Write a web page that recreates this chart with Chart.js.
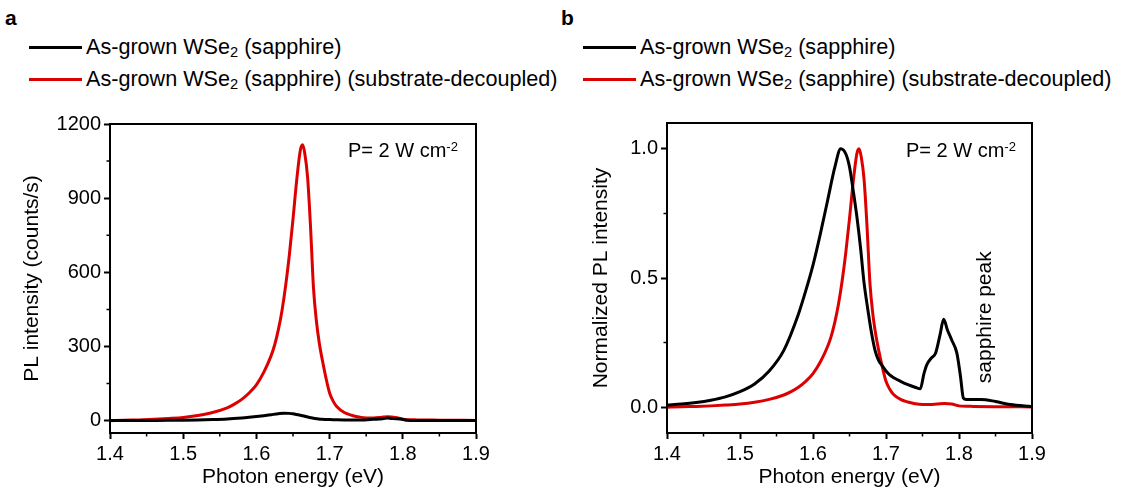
<!DOCTYPE html>
<html>
<head>
<meta charset="utf-8">
<script src="https://cdn.jsdelivr.net/npm/chart.js@4.4.1/dist/chart.umd.min.js"></script>
<style>
  html, body { margin: 0; padding: 0; background: #fff; }
  body { width: 1147px; height: 497px; position: relative; overflow: hidden;
         font-family: "Liberation Sans", Arial, sans-serif; color: #000; }
  .panel { position: absolute; font-weight: bold; font-size: 21px; line-height: 24px; }
  .row { position: absolute; display: flex; align-items: center; height: 24px; font-size: 21.6px; white-space: nowrap; }
  .row .ln { display: inline-block; width: 53px; height: 3px; margin-right: 4px; }
  .sb { font-size: 0.68em; position: relative; top: 0.35em; }
  .sp { font-size: 0.65em; position: relative; top: -0.5em; }
  .note { position: absolute; font-size: 20px; line-height: 24px; white-space: nowrap; }
  .wrap { position: absolute; top: 100px; width: 500px; height: 397px; }
</style>
</head>
<body>

<div class="panel" style="left:5px; top:6px;">a</div>
<div class="row" style="left:29px; top:35px;"><span class="ln" style="background:#000"></span>As-grown WSe<span class="sb">2</span>&nbsp;(sapphire)</div>
<div class="row" style="left:29px; top:67px;"><span class="ln" style="background:#dd0000"></span>As-grown WSe<span class="sb">2</span>&nbsp;(sapphire) (substrate-decoupled)</div>

<div class="panel" style="left:561px; top:6px;">b</div>
<div class="row" style="left:583px; top:35px;"><span class="ln" style="background:#000"></span>As-grown WSe<span class="sb">2</span>&nbsp;(sapphire)</div>
<div class="row" style="left:583px; top:67px;"><span class="ln" style="background:#dd0000"></span>As-grown WSe<span class="sb">2</span>&nbsp;(sapphire) (substrate-decoupled)</div>

<div class="wrap" style="left:0px;"><canvas id="chartA"></canvas></div>
<div class="wrap" style="left:560px;"><canvas id="chartB"></canvas></div>

<div class="note" style="left:348px; top:138px;">P= 2 W cm<span class="sp">-2</span></div>
<div class="note" style="left:906px; top:138px;">P= 2 W cm<span class="sp">-2</span></div>

<script>
// ===== PL espectros WSe2 sobre zafiro =====

// energias (eV)
const energiaNegro = [1.40, 1.42, 1.44, 1.46, 1.48, 1.50, 1.52, 1.54, 1.56, 1.58, 1.59, 1.60, 1.61, 1.62, 1.63, 1.638,
    1.645, 1.65, 1.655, 1.66, 1.665, 1.67, 1.675, 1.68, 1.685, 1.69, 1.695, 1.70, 1.705, 1.71, 1.72, 1.73, 1.74, 1.747,
    1.752, 1.756, 1.762, 1.768, 1.774, 1.779, 1.784, 1.79, 1.797, 1.802, 1.806, 1.81, 1.83, 1.85, 1.87, 1.90];
const energiaRojo = [1.40, 1.42, 1.44, 1.46, 1.48, 1.50, 1.52, 1.54, 1.56, 1.57, 1.58, 1.59, 1.60, 1.61, 1.62, 1.625,
    1.63, 1.635, 1.64, 1.645, 1.65, 1.655, 1.66, 1.663, 1.666, 1.67, 1.674, 1.678, 1.682, 1.686, 1.69, 1.695, 1.70,
    1.705, 1.71, 1.72, 1.73, 1.74, 1.75, 1.76, 1.77, 1.78, 1.79, 1.80, 1.82, 1.85, 1.90];

// panel a: intensidad PL (counts/s)
const cuentasNegro = [0.2, 0.4, 0.5, 0.8, 1.2, 1.8, 2.7, 4.2, 6.6, 10.8, 13.5, 16.5, 20, 24, 28, 30,
    29.4, 28, 25, 22, 18.6, 14.4, 11.4, 8.7, 6.6, 5.4, 4.8, 4.2, 3.8, 3.5, 3, 2.6, 2.3, 2.1,
    3.9, 5, 5.7, 6.3, 8.4, 10.2, 9, 7.8, 6.3, 3.6, 1.1, 0.9, 0.9, 0.7, 0.3, 0.1];
const cuentasRojo = [0, 2, 3, 6, 9, 13, 21, 33, 52, 67, 86, 112, 145, 195, 262, 307,
    368, 446, 547, 670, 815, 971, 1094, 1116, 1083, 982, 781, 536, 402, 312, 246, 173, 112,
    78, 56, 33, 22, 15, 11, 11, 13, 16, 13, 6, 3, 2, 1];

// panel b: intensidad normalizada
const normNegro = [0.008, 0.012, 0.018, 0.027, 0.04, 0.06, 0.09, 0.14, 0.22, 0.36, 0.45, 0.55, 0.67, 0.80, 0.93, 1.0,
    0.98, 0.93, 0.84, 0.74, 0.62, 0.48, 0.38, 0.29, 0.22, 0.18, 0.16, 0.14, 0.125, 0.115, 0.10, 0.087, 0.077, 0.071,
    0.13, 0.165, 0.19, 0.21, 0.28, 0.34, 0.30, 0.26, 0.21, 0.12, 0.035, 0.03, 0.03, 0.022, 0.01, 0.002];
const normRojo = [0.000, 0.002, 0.003, 0.005, 0.008, 0.012, 0.019, 0.030, 0.047, 0.060, 0.077, 0.100, 0.130, 0.175, 0.235, 0.275,
    0.330, 0.400, 0.490, 0.600, 0.730, 0.870, 0.980, 1.000, 0.970, 0.880, 0.700, 0.480, 0.360, 0.280, 0.220, 0.155, 0.100,
    0.070, 0.050, 0.030, 0.020, 0.013, 0.010, 0.010, 0.012, 0.014, 0.012, 0.005, 0.003, 0.002, 0.001];

// ticks
const ticksX = [1.4, 1.5, 1.6, 1.7, 1.8, 1.9];
const menoresX = [1.45, 1.55, 1.65, 1.75, 1.85];
const ticksYA = [0, 300, 600, 900, 1200];
const menoresYA = [150, 450, 750, 1050];
const ticksYB = [0, 0.5, 1.0];
const menoresYB = [0.25, 0.75];

const fuente = '"Liberation Sans", Arial, sans-serif';
const ROJO = '#dd0000';

function pares(xs, ys) {
    return xs.map((x, i) => ({ x: x, y: ys[i] }));
}

// marco, ticks menores y texto rotado
const marcoPlugin = {
    id: 'marco',
    afterDraw(chart, args, opts) {
        const { ctx, chartArea: a, scales: { x, y } } = chart;
        ctx.save();
        ctx.strokeStyle = '#000';
        ctx.lineWidth = 2;
        ctx.strokeRect(a.left, a.top, a.right - a.left, a.bottom - a.top);
        ctx.lineWidth = 1.5;
        ctx.beginPath();
        opts.menoresX.forEach(v => {
            const px = x.getPixelForValue(v);
            ctx.moveTo(px, a.bottom);
            ctx.lineTo(px, a.bottom + 3.5);
        });
        opts.menoresY.forEach(v => {
            const py = y.getPixelForValue(v);
            ctx.moveTo(a.left, py);
            ctx.lineTo(a.left - 3.5, py);
        });
        ctx.stroke();
        if (opts.nota) {
            const px = x.getPixelForValue(opts.nota.x);
            const py = y.getPixelForValue(opts.nota.y);
            ctx.translate(px, py);
            ctx.rotate(-Math.PI / 2);
            ctx.fillStyle = '#000';
            ctx.font = '21px ' + fuente;
            ctx.textAlign = 'center';
            ctx.textBaseline = 'middle';
            ctx.fillText(opts.nota.texto, 0, 0);
        }
        ctx.restore();
    }
};

function opcionesEje(cfg) {
    return {
        responsive: true,
        maintainAspectRatio: false,
        animation: false,
        layout: { padding: { top: cfg.padTop, right: cfg.padRight, left: 0, bottom: 0 } },
        plugins: {
            legend: { display: false },
            tooltip: { enabled: false },
            marco: { menoresX: menoresX, menoresY: cfg.menoresY, nota: cfg.nota || null }
        },
        elements: { point: { radius: 0 } },
        scales: {
            x: {
                type: 'linear',
                min: 1.4,
                max: 1.9,
                afterBuildTicks: s => { s.ticks = ticksX.map(v => ({ value: v })); },
                afterFit: s => { s.height = 64; },
                ticks: {
                    color: '#000',
                    padding: 3,
                    maxRotation: 0,
                    font: { family: fuente, size: 20 },
                    callback: v => v.toFixed(1)
                },
                grid: { drawOnChartArea: false, tickLength: 6, tickColor: '#000', tickWidth: 2 },
                border: { color: '#000', width: 2 },
                title: {
                    display: true,
                    text: 'Photon energy (eV)',
                    color: '#000',
                    font: { family: fuente, size: 21, lineHeight: 1.2 },
                    padding: { top: 0, bottom: 7 }
                }
            },
            y: {
                type: 'linear',
                min: cfg.yMin,
                max: cfg.yMax,
                afterBuildTicks: s => { s.ticks = cfg.ticksY.map(v => ({ value: v })); },
                afterFit: s => { s.width = cfg.anchoY; },
                ticks: {
                    color: '#000',
                    padding: 3,
                    font: { family: fuente, size: 20 },
                    callback: cfg.etiquetaY
                },
                grid: { drawOnChartArea: false, tickLength: 6, tickColor: '#000', tickWidth: 2 },
                border: { color: '#000', width: 2 },
                title: {
                    display: true,
                    text: cfg.tituloY,
                    color: '#000',
                    font: { family: fuente, size: 21, lineHeight: 1.2 },
                    padding: { top: cfg.padTitulo, bottom: 0 }
                }
            }
        }
    };
}

function serie(datos, color) {
    return {
        data: datos,
        borderColor: color,
        borderWidth: 3,
        fill: false,
        cubicInterpolationMode: 'monotone',
        pointRadius: 0
    };
}

document.addEventListener('DOMContentLoaded', function() {
    new Chart(document.getElementById('chartA'), {
        type: 'line',
        data: {
            datasets: [
                serie(pares(energiaNegro, cuentasNegro), '#000'),
                serie(pares(energiaRojo, cuentasRojo), ROJO)
            ]
        },
        options: opcionesEje({
            padTop: 24, padRight: 24, anchoY: 110, padTitulo: 20,
            yMin: -50, yMax: 1200, ticksY: ticksYA, menoresY: menoresYA,
            tituloY: 'PL intensity (counts/s)',
            etiquetaY: v => String(v)
        }),
        plugins: [marcoPlugin]
    });

    new Chart(document.getElementById('chartB'), {
        type: 'line',
        data: {
            datasets: [
                serie(pares(energiaNegro, normNegro), '#000'),
                serie(pares(energiaRojo, normRojo), ROJO)
            ]
        },
        options: opcionesEje({
            padTop: 23, padRight: 28, anchoY: 107, padTitulo: 29,
            yMin: -0.1, yMax: 1.1, ticksY: ticksYB, menoresY: menoresYB,
            tituloY: 'Normalized PL intensity',
            etiquetaY: v => v.toFixed(1),
            nota: { x: 1.8356, y: 0.348, texto: 'sapphire peak' }
        }),
        plugins: [marcoPlugin]
    });
});
</script>
</body>
</html>
